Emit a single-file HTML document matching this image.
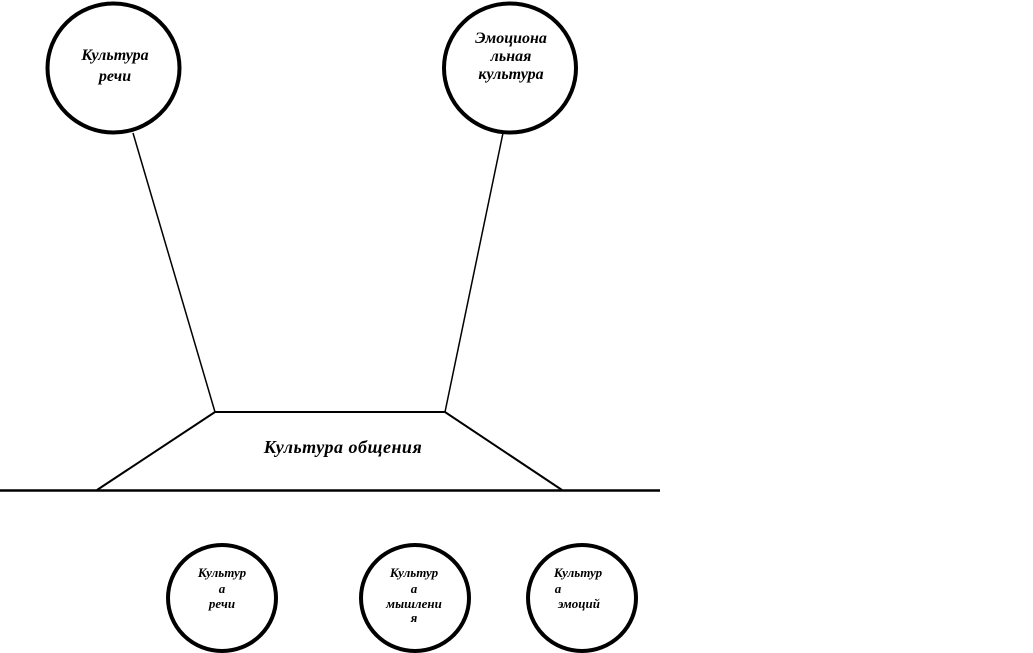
<!DOCTYPE html>
<html><head><meta charset="utf-8"><style>
html,body{margin:0;padding:0;background:#fff;width:1033px;height:653px;overflow:hidden}
svg text{font-family:"Liberation Serif","DejaVu Serif",serif;font-style:italic;font-weight:bold;fill:#000}
</style></head><body>
<svg width="1033" height="653" viewBox="0 0 1033 653" xmlns="http://www.w3.org/2000/svg">
<g fill="none" stroke="#000">
<ellipse cx="113.5" cy="68" rx="66" ry="64.5" stroke-width="4"/>
<ellipse cx="510" cy="68" rx="66" ry="64.5" stroke-width="4"/>
<line x1="133" y1="133" x2="215" y2="412" stroke-width="1.5"/>
<line x1="503" y1="133" x2="445" y2="412" stroke-width="1.5"/>
<polyline points="97,490 215,412 445,412 562,490" stroke-width="2"/>
<line x1="0" y1="490.5" x2="660" y2="490.5" stroke-width="2.5"/>
<ellipse cx="222" cy="598" rx="54" ry="53" stroke-width="4"/>
<ellipse cx="415" cy="598" rx="54" ry="53" stroke-width="4"/>
<ellipse cx="582" cy="598" rx="54" ry="53" stroke-width="4"/>
</g>
<g font-size="16" text-anchor="middle">
<text x="115" y="60">Культура</text>
<text x="115" y="81">речи</text>
<text x="511" y="43">Эмоциона</text>
<text x="511" y="61">льная</text>
<text x="511" y="79">культура</text>
</g>
<text x="343" y="453" font-size="18" text-anchor="middle" letter-spacing="0.5">Культура общения</text>
<g font-size="13" text-anchor="middle">
<text x="222" y="577">Культур</text>
<text x="222" y="593">а</text>
<text x="222" y="608">речи</text>
<text x="414" y="577">Культур</text>
<text x="414" y="593">а</text>
<text x="414" y="608">мышлени</text>
<text x="414" y="622">я</text>
<text x="578" y="577">Культур</text>
<text x="558" y="593">а</text>
<text x="579" y="608">эмоций</text>
</g>
</svg>
</body></html>
